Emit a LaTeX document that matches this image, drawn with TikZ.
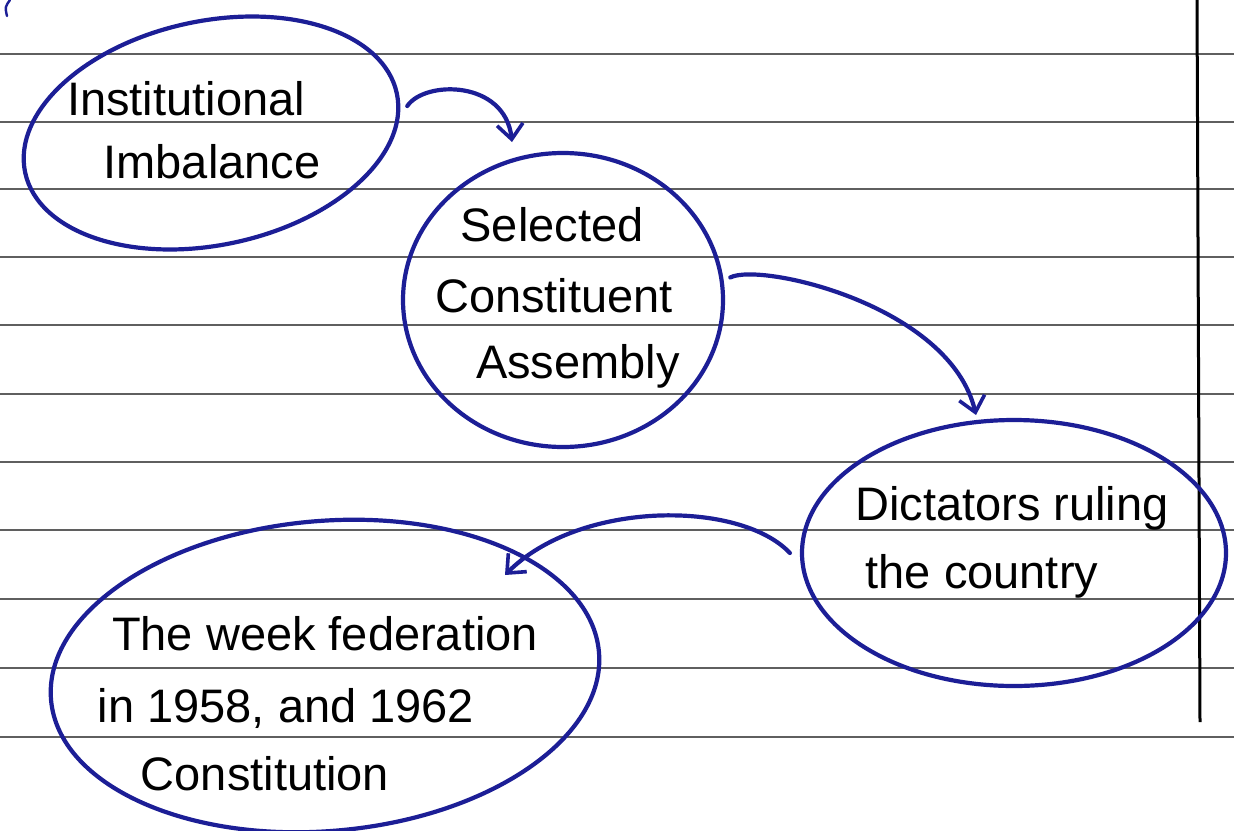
\documentclass[tikz,border=0pt]{standalone}
\usepackage{fontspec}
\setmainfont{Liberation Sans}
\usetikzlibrary{arrows.meta,shapes.geometric}
\definecolor{ink}{RGB}{28,30,150}
\definecolor{ruling}{RGB}{95,95,95}
\begin{document}
\begin{tikzpicture}[x=1pt,y=-1pt,
  bubble/.style={ellipse, draw=ink, line width=4.2pt, inner sep=0pt},
  link/.style={draw=ink, line width=4.2pt, line cap=round,
    -{Straight Barb[length=15pt,width=26pt,line width=3.6pt]}},
  words/.style={font=\fontsize{47}{54}\selectfont, text=black, anchor=base, inner sep=0pt}]
\useasboundingbox (0,0) rectangle (1234,830);
\fill[white] (0,0) rectangle (1234,830);
% ruled notebook lines and the margin line
\foreach \y in {54,122,189,257,325,394,462,530,599,668,737}
  \draw[ruling, line width=2pt] (0,\y) -- (1234,\y);
\draw[black, line width=3pt] (1197,0) -- (1200,722);
% small pen stroke in the corner
\draw[ink, line width=2.4pt, line cap=round] (10,0) .. controls (5,7) .. (7,16);

% the four bubbles
\node[bubble, minimum width=380pt, minimum height=224pt, rotate=12] (o1) at (211,133) {};
\node[bubble, minimum width=320pt, minimum height=294pt] (o2) at (563,300) {};
\node[bubble, minimum width=424pt, minimum height=266pt] (o3) at (1014,553) {};
\node[bubble, minimum width=550pt, minimum height=310pt, rotate=5] (o4) at (325,676) {};

% bubble texts
\node[words] (t1a) at (186,115) {Institutional};
\node[words] (t1b) at (212,178) {Imbalance};
\node[words] (t2a) at (552,241) {Selected};
\node[words] (t2b) at (554,312) {Constituent};
\node[words] (t2c) at (578,378) {Assembly};
\node[words] (t3a) at (1012,520) {Dictators ruling};
\node[words] (t3b) at (982,588) {the country};
\node[words] (t4a) at (325,650) {The week federation};
\node[words] (t4b) at (286,722) {in 1958, and 1962};
\node[words] (t4c) at (265,790) {Constitution};

% free ends of the arrows
\coordinate (a1tip) at (512,142);
\coordinate (a2tip) at (976,415);
\coordinate (a3tip) at (505,575);

% connecting arrows
\draw[link] ([shift={(7,3)}]o1.-3) .. controls (425,80) and (505,80) .. (a1tip);
\draw[link] ([xshift=7pt]o2.8) .. controls (760,262) and (950,305) .. (a2tip);
\draw[link] ([xshift=-10pt]o3.west) .. controls (740,500) and (580,500) .. (a3tip);
\end{tikzpicture}
\end{document}
